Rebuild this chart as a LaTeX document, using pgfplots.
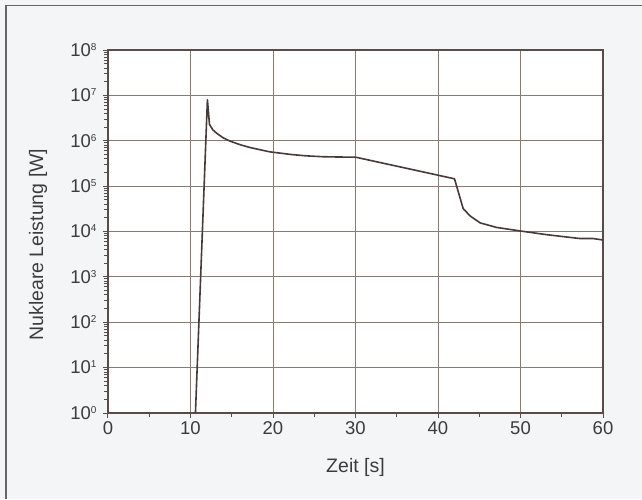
\documentclass[border=0pt]{standalone}
\usepackage{pgfplots}
\pgfplotsset{compat=1.18}
\usepackage{fontspec}
\setmainfont{Liberation Sans}
\definecolor{paper}{RGB}{243,245,247}
\definecolor{gridc}{RGB}{140,122,112}
\definecolor{axisc}{RGB}{88,76,72}
\definecolor{curvec}{RGB}{72,58,58}
\definecolor{textc}{RGB}{60,60,60}
\newcommand{\pw}[1]{10\raisebox{6pt}[0pt][0pt]{\fontsize{10}{10}\selectfont #1}}

\begin{document}
\begin{tikzpicture}
  \fill[paper] (-108pt,-86pt) rectangle (534pt,413pt);
  \useasboundingbox (-108pt,-86pt) rectangle (534pt,413pt);
  \draw[gray!80!black, line width=1.2pt] (-102pt,-86pt) -- (-102pt,407.5pt) -- (534pt,407.5pt);
  \begin{axis}[
      at={(0,0)}, anchor=south west,
      scale only axis, width=495pt, height=363pt,
      ymode=log,
      xmin=0, xmax=60, ymin=1, ymax=1e8,
      xtick={0,10,...,60},
      minor xtick={5,15,...,55},
      ytick={1,10,100,1000,1e4,1e5,1e6,1e7,1e8},
      yticklabels={\pw{0},\pw{1},\pw{2},\pw{3},\pw{4},\pw{5},\pw{6},\pw{7},\pw{8}},
      /pgf/number format/assume math mode=true,
      tick pos=left,
      tick align=outside,
      major tick length=5pt,
      minor tick length=4pt,
      tick style={axisc, line width=1pt},
      grid=major,
      grid style={gridc, line width=0.8pt},
      axis line style={axisc, line width=1.2pt},
      axis background/.style={fill=white},
      every tick label/.append style={font=\fontsize{18.5}{22}\selectfont, text=textc},
      yticklabel style={xshift=-3pt},
      label style={font=\fontsize{19.5}{23}\selectfont, text=textc},
      xlabel={Zeit [s]},
      ylabel={Nukleare Leistung [W]},
      xlabel style={at={(axis description cs:0.5,-0.149)}, anchor=center},
      ylabel style={at={(axis description cs:-0.1414,0.464)}, anchor=center},
    ]
    % nukleare Leistung
    \addplot [curvec, line width=1.6pt, line join=round] coordinates {
      (10.6,1)
      (12.05,8.0e6)
      (12.3,2.3e6)
      (12.7,1.75e6)
      (13.2,1.45e6)
      (14.0,1.15e6)
      (14.8,9.8e5)
      (16.0,8.2e5)
      (17.2,7.1e5)
      (18.5,6.3e5)
      (19.6,5.7e5)
      (21.0,5.3e5)
      (22.1,5.0e5)
      (24.0,4.65e5)
      (26.0,4.45e5)
      (28.0,4.38e5)
      (30.0,4.35e5)
      (36.5,2.4e5)
      (42.0,1.45e5)
      (43.05,3.2e4)
      (43.9,2.2e4)
      (45.1,1.55e4)
      (47.1,1.23e4)
      (50.1,1.02e4)
      (53.2,8.5e3)
      (57.2,7.0e3)
      (58.8,7.0e3)
      (60,6.5e3)
    };
  \end{axis}
\end{tikzpicture}
\end{document}
